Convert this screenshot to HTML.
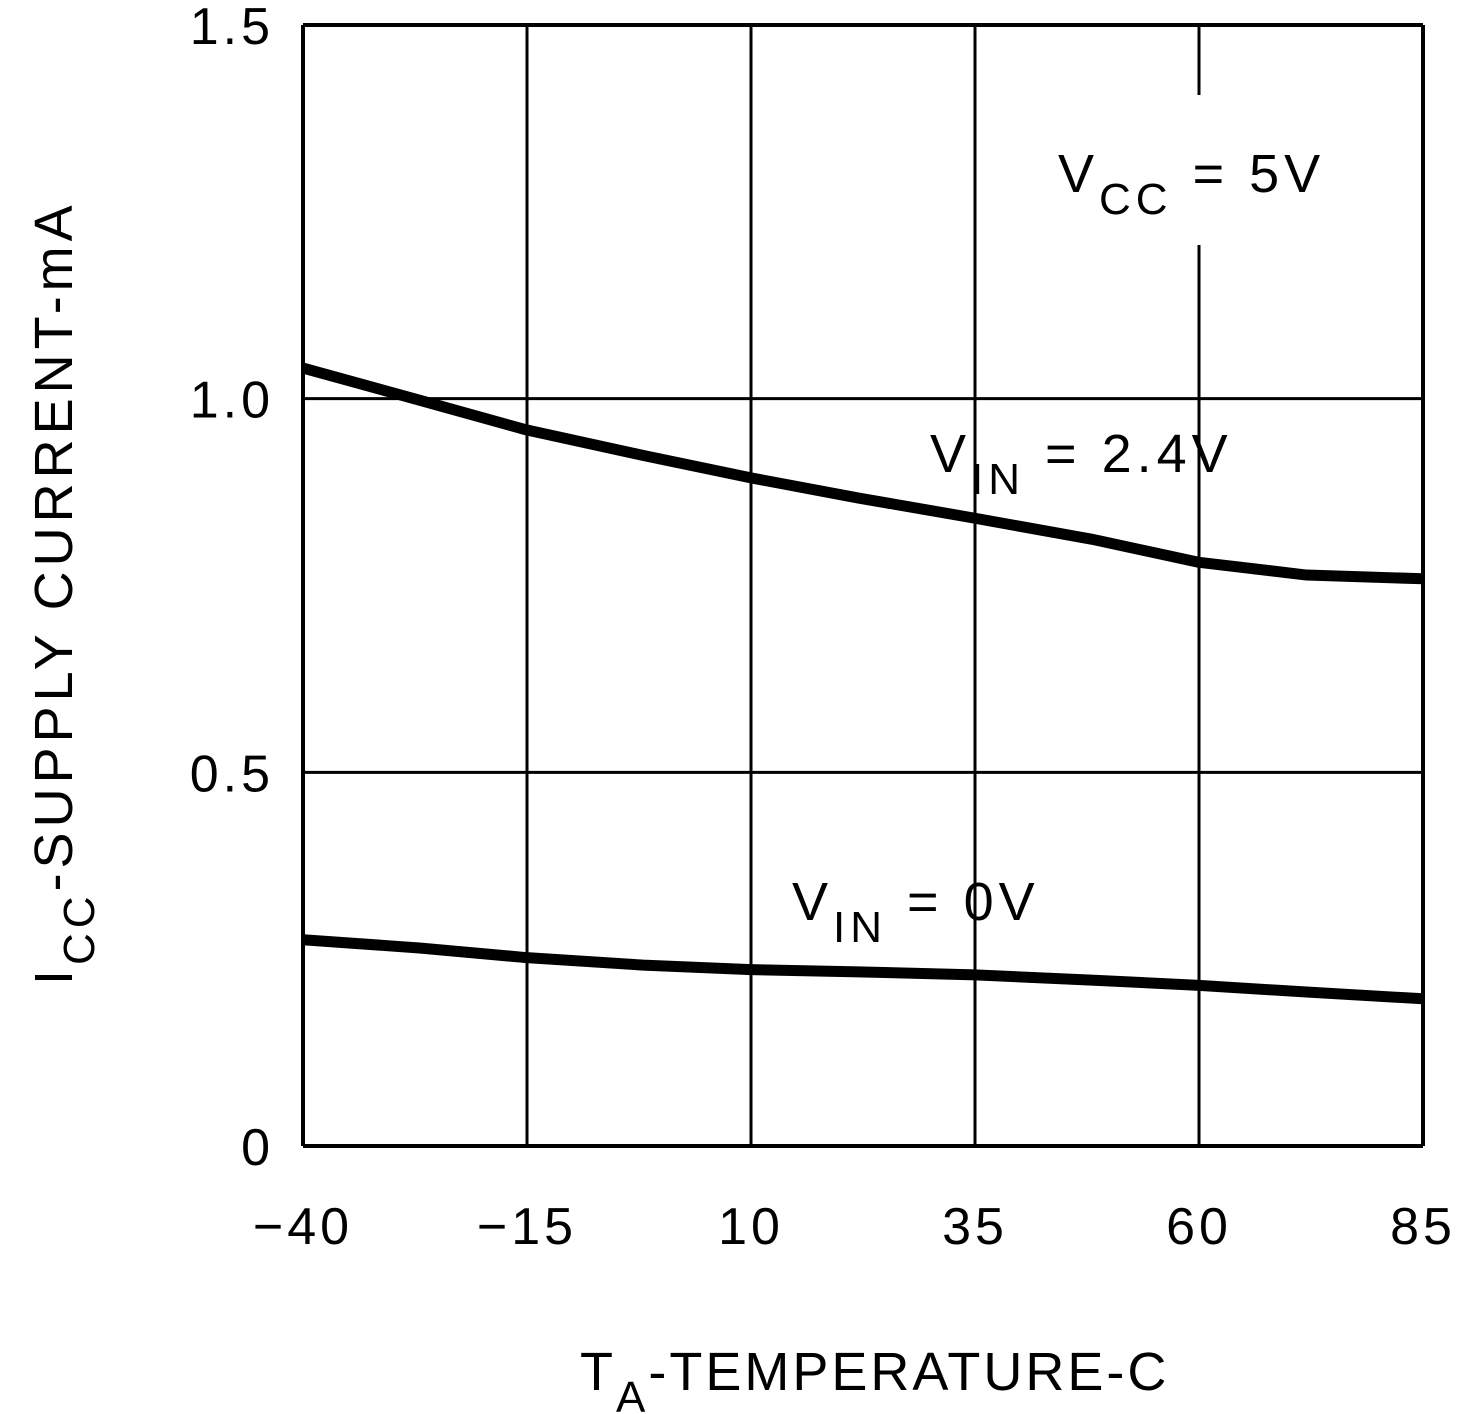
<!DOCTYPE html>
<html><head><meta charset="utf-8"><style>
html,body{margin:0;padding:0;background:#fff;}
svg{display:block;font-family:"Liberation Sans",sans-serif;}
</style></head><body>
<svg id="c" width="1459" height="1414" viewBox="0 0 1459 1414">
<g id="grid"></g>
<rect x="1040" y="95" width="320" height="150" fill="#fff"/>
<g id="series"></g>
<g id="ticks" font-size="52" letter-spacing="4" fill="#000"></g>
<text x="1058" y="192" font-size="54" letter-spacing="5">V<tspan font-size="44" dy="22">CC</tspan><tspan dy="-22"> = 5V</tspan></text>
<text x="930" y="472" font-size="54" letter-spacing="5">V<tspan font-size="44" dy="22">IN</tspan><tspan dy="-22"> = 2.4V</tspan></text>
<text x="792" y="920" font-size="54" letter-spacing="5">V<tspan font-size="44" dy="22">IN</tspan><tspan dy="-22"> = 0V</tspan></text>
<text x="580" y="1390" font-size="54" letter-spacing="3">T<tspan font-size="44" dy="22">A</tspan><tspan dy="-22">-TEMPERATURE-C</tspan></text>
<text transform="translate(72 985) rotate(-90)" font-size="54" letter-spacing="5">I<tspan font-size="44" dy="22">CC</tspan><tspan dy="-22">-SUPPLY CURRENT-mA</tspan></text>
</svg>
<script>
const xTicks=[-40,-15,10,35,60,85];
const yTicks=[0,0.5,1.0,1.5];
const yTickLabels=["0","0.5","1.0","1.5"];
const temps=[-40,-27,-15,-2,10,22,35,48,60,72,85];
const vin24=[1.041,0.998,0.958,0.924,0.894,0.867,0.840,0.812,0.781,0.764,0.759];
const vin0=[0.276,0.265,0.252,0.242,0.236,0.233,0.229,0.222,0.215,0.206,0.197];
const X0=303,X1=1423,Y0=1146,Y1=25;
const sx=v=>X0+(v+40)/125*(X1-X0);
const sy=v=>Y0-v/1.5*(Y0-Y1);
const NS="http://www.w3.org/2000/svg";
const g=document.getElementById('grid'),s=document.getElementById('series'),t=document.getElementById('ticks');
function mk(tag,a,p){const e=document.createElementNS(NS,tag);for(const k in a)e.setAttribute(k,a[k]);p.appendChild(e);return e;}
xTicks.forEach(v=>{const l=mk('line',{x1:sx(v),x2:sx(v),y1:Y1,y2:Y0,stroke:'#000','stroke-width':(v===-40||v===85)?4:3},g);


const tx=mk('text',{x:sx(v),y:1244,'text-anchor':'middle'},t);tx.textContent=(v<0?'\u2212':'')+Math.abs(v);

});
yTicks.forEach((v,i)=>{const l=mk('line',{x1:X0,x2:X1,y1:sy(v),y2:sy(v),stroke:'#000','stroke-width':(v===0||v===1.5)?4:3},g);


const tx=mk('text',{x:274,y:sy(v)+19,'text-anchor':'end'},t);tx.textContent=yTickLabels[i];

});
function line(vals,name){const d=temps.map((x,i)=>(i?'L':'M')+sx(x)+' '+sy(vals[i])).join(' ');
const p=mk('path',{d:d,fill:'none',stroke:'#000','stroke-width':11,'stroke-linejoin':'round'},s);

}
line(vin24,'vin-2.4v-curve');line(vin0,'vin-0v-curve');
</script>
</body></html>
